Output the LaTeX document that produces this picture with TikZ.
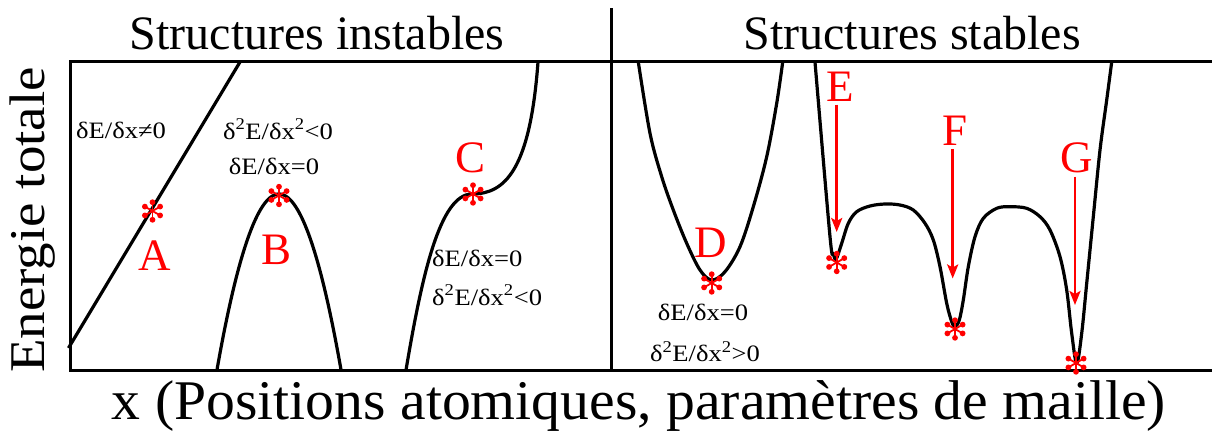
\documentclass[tikz,border=0pt]{standalone}
\usepackage{fontspec}
\setmainfont{Liberation Serif}
\usetikzlibrary{arrows.meta}
\begin{document}
\begin{tikzpicture}[x=1pt,y=-1pt,
  frame/.style={line width=3pt},
  curve/.style={line width=3.2pt, line join=round},
  eq/.style={inner sep=0pt, font=\fontsize{23.5}{26}\selectfont},
  lbl/.style={inner sep=0pt, text=red, font=\fontsize{45}{48}\selectfont},
  arr/.style={red, line width=2.6pt, -{Stealth[length=14pt,width=11pt,inset=3pt]}},
  astr/.pic={\foreach \a in {30,90,...,330} {\draw[red, line width=1.8pt] (0,0) -- (\a:8.5); \fill[red] (\a:8.8) circle (2.9);}}
]
\useasboundingbox (0,0) rectangle (1212,432);
% frame
\coordinate (tl) at (70,61);
\coordinate (bl) at (70,370);
\coordinate (tr) at (1212,61);
\coordinate (br) at (1212,370);
\coordinate (dt) at (611,8);
\coordinate (db) at (611,370);
\draw[frame] (tr) -- (tl) -- (bl) -- (br);
\draw[frame] (dt) -- (db);
% titles
\node[anchor=base, inner sep=0pt, font=\fontsize{48}{52}\selectfont] (t1) at (317,49) {Structures instables};
\node[anchor=base, inner sep=0pt, font=\fontsize{48}{52}\selectfont] (t2) at (912,49) {Structures stables};
\node[rotate=90, anchor=base, inner sep=0pt, font=\fontsize{50}{55}\selectfont] (ylab) at (44,220) {\scalebox{1.1}[1]{Energie totale}};
\node[anchor=base, inner sep=0pt, font=\fontsize{56}{60}\selectfont] (xlab) at (639,419.5) {\scalebox{1.03}[1]{x (Positions atomiques, paramètres de maille)}};
% curves left
\draw[curve] (68.5,348) -- (240,62);
\draw[curve] plot[domain=216.7:341.3, samples=80] (\x, {194+0.0457*(\x-279)*(\x-279)});
\draw[curve] (406,370) .. controls (422,275) and (440,194) .. (472,194)
  .. controls (505,194) and (530,170) .. (538,62);
% curves right
\draw[curve] plot[smooth, tension=0.55] coordinates {(638.3,62) (650,133.3) (661.7,176.7) (673.3,210) (686.7,243.3) (700,270) (711.7,280) (725,271.7) (740,246.7) (753.3,206.7) (766.7,156.7) (776.7,103.3) (782.7,62)};
\draw[curve] plot[smooth, tension=0.55] coordinates {(815,62) (830,236.7) (833.3,253.3) (836,259.3) (841.7,243.3) (848.3,223.3) (856.7,211.7) (870,206) (885,204) (900,205) (913.3,210) (925,223.3) (933.3,240) (940,266.7) (946.7,303.3) (951.7,321.7) (955,326.7) (959.3,320) (963.3,300) (968.3,266.7) (975,236.7) (983.3,218.3) (996.7,208.3) (1010,206.7) (1026.7,208.3) (1040,216.7) (1050,230) (1060,256.7) (1066.7,290) (1071.7,333.3) (1076.7,363.3) (1081.7,333.3) (1086.7,283.3) (1093.3,216.7) (1100,150) (1106.7,100) (1111.7,62)};
% stars
\coordinate (sA) at (152.5,211);
\coordinate (sB) at (279,195.5);
\coordinate (sC) at (473,194);
\coordinate (sD) at (711.7,283);
\coordinate (sE) at (836.7,262.5);
\coordinate (sF) at (955,329);
\coordinate (sG) at (1076,363);
\foreach \s in {sA,sB,sC,sD,sE,sF,sG} {\pic at (\s) {astr};}
% labels
\node[lbl] (A) at (155,255.5) {A};
\node[lbl] (B) at (277,250) {B};
\node[lbl] (C) at (471,158.3) {C};
\node[lbl] (D) at (711,243) {D};
\node[lbl] (E) at (840,86.7) {E};
\node[lbl] (F) at (955,131) {F};
\node[lbl] (G) at (1077,158.3) {G};
% arrows
\coordinate (tE) at (836.7,232);
\coordinate (tF) at (952.7,278.5);
\coordinate (tG) at (1075,305);
\draw[arr] ([yshift=-3pt]tE |- E.south) -- (tE);
\draw[arr] ([yshift=-3pt]tF |- F.south) -- (tF);
\draw[arr] ([yshift=-3pt]tG |- G.south) -- (tG);
% equations
\node[eq, anchor=base west] (eA) at (76,138) {\scalebox{1.13}[1]{δE/δx≠0}};
\node[eq, anchor=base] (eB1) at (278,139) {\scalebox{1.13}[1]{δ\textsuperscript{2}E/δx\textsuperscript{2}<0}};
\node[eq, anchor=base] (eB2) at (274,174) {\scalebox{1.13}[1]{δE/δx=0}};
\node[eq, anchor=base west] (eC1) at (432,266) {\scalebox{1.13}[1]{δE/δx=0}};
\node[eq, anchor=base west] (eC2) at (432,305) {\scalebox{1.13}[1]{δ\textsuperscript{2}E/δx\textsuperscript{2}<0}};
\node[eq, anchor=base] (eD1) at (703,320) {\scalebox{1.13}[1]{δE/δx=0}};
\node[eq, anchor=base] (eD2) at (705,361.5) {\scalebox{1.13}[1]{δ\textsuperscript{2}E/δx\textsuperscript{2}>0}};
\end{tikzpicture}
\end{document}
